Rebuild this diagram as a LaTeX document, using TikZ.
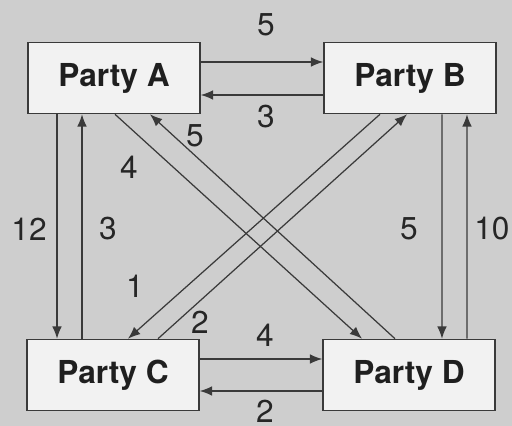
\documentclass[tikz,border=0pt]{standalone}
\usepackage{fontspec}
\setmainfont{TeX Gyre Heros}
\usetikzlibrary{arrows.meta}
\definecolor{paper}{RGB}{206,206,206}
\definecolor{ink}{RGB}{58,58,58}

\tikzset{
  party/.style={draw=ink, line width=0.9pt, fill=white!95!black,
    minimum width=3.44cm, minimum height=1.42cm,
    font=\fontsize{18}{20}\selectfont\bfseries, text=black!88},
  flow/.style={draw=ink, line width=0.7pt, -{Latex[length=7pt,width=5.5pt]}},
  amount/.style={font=\fontsize{18}{20}\selectfont, text=black!85, inner sep=0pt}
}

\begin{document}
\begin{tikzpicture}[x=0.02cm, y=-0.02cm]
    \fill[paper] (0,0) rectangle (512,426);
    \useasboundingbox (0,0) rectangle (512,426);

    % the four parties
    \node[party] (A) at (114,78) {Party A};
    \node[party] (B) at (410,78) {Party B};
    \node[party] (C) at (113,375) {Party C};
    \node[party] (D) at (409,375) {Party D};

    % horizontal pairs
    \draw[flow] ([yshift=0.32cm]A.east) -- ([yshift=0.32cm]B.west);
    \draw[flow] ([yshift=-0.34cm]B.west) -- ([yshift=-0.34cm]A.east);
    \draw[flow] ([yshift=0.32cm]C.east) -- ([yshift=0.32cm]D.west);
    \draw[flow] ([yshift=-0.32cm]D.west) -- ([yshift=-0.32cm]C.east);

    % vertical pairs
    \draw[flow] ([xshift=-1.14cm]A.south) -- ([xshift=-1.12cm]C.north);
    \draw[flow] ([xshift=-0.62cm]C.north) -- ([xshift=-0.64cm]A.south);
    \draw[flow] ([xshift=0.64cm]B.south) -- ([xshift=0.66cm]D.north);
    \draw[flow] ([xshift=1.16cm]D.north) -- ([xshift=1.14cm]B.south);

    % diagonals
    \draw[flow] ([xshift=0.02cm]A.south) -- ([xshift=-0.94cm]D.north);
    \draw[flow] ([xshift=-0.28cm]D.north) -- ([xshift=0.72cm]A.south);
    \draw[flow] ([xshift=-0.6cm]B.south) -- ([xshift=0.3cm]C.north);
    \draw[flow] ([xshift=0.9cm]C.north) -- ([xshift=-0.06cm]B.south);

    % amounts
    \node[amount] (ab) at (266,25) {5};
    \node[amount] (ba) at (266,117) {3};
    \node[amount] (cd) at (265,335) {4};
    \node[amount] (dc) at (265,411) {2};
    \node[amount] (ac) at (29,229) {12};
    \node[amount] (ca) at (108,229) {3};
    \node[amount] (bd) at (409,229) {5};
    \node[amount] (db) at (492,229) {10};
    \node[amount] (ad) at (129,167) {4};
    \node[amount] (da) at (195,136) {5};
    \node[amount] (bc) at (135,286) {1};
    \node[amount] (cb) at (200,322) {2};
\end{tikzpicture}
\end{document}
